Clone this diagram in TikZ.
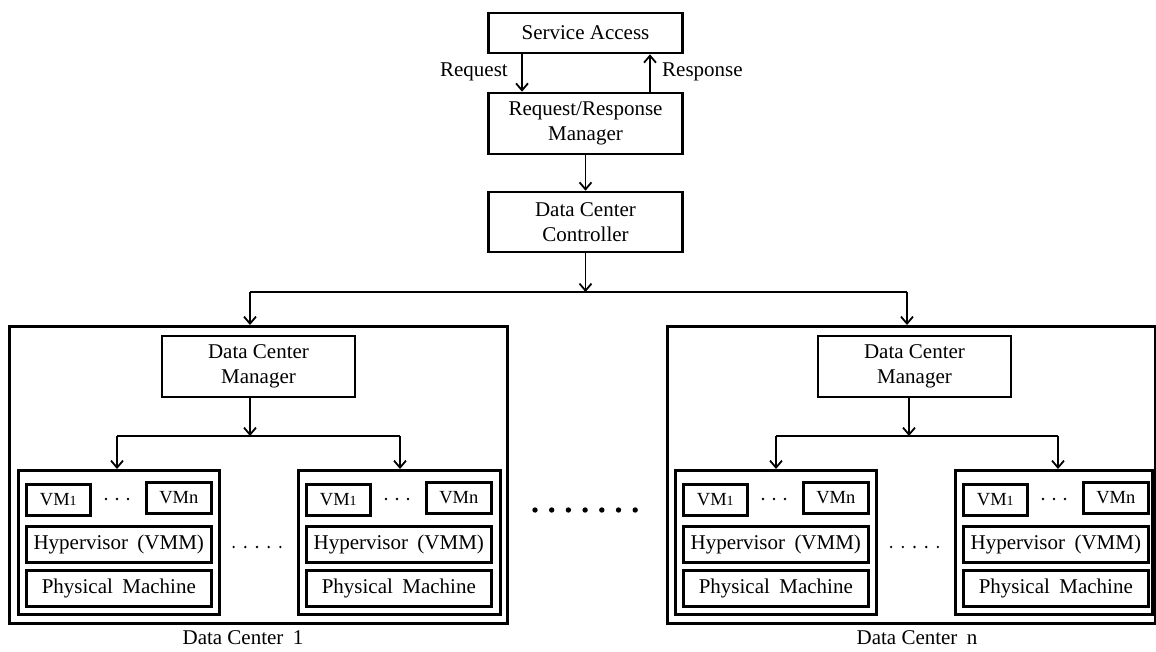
\documentclass[tikz,border=0pt]{standalone}
\usepackage{fontspec}
\setmainfont{Liberation Serif}
\usetikzlibrary{arrows.meta}
\tikzset{
  bx/.style={draw, line width=2.6pt, inner sep=0pt, align=center, font=\fontsize{21}{25}\selectfont},
  vmbox/.style={bx, font=\fontsize{18.5}{20}\selectfont},
  arr/.style={line width=1.8pt, -{Straight Barb[length=7pt,width=12pt,line width=1.8pt]}},
  ln/.style={line width=1.8pt},
  lbl/.style={font=\fontsize{21}{25}\selectfont, inner sep=0pt},
  smalldot/.style={fill=black, draw=none},
}
\begin{document}
\begin{tikzpicture}[x=1pt,y=-1pt]
\useasboundingbox (0,0) rectangle (1156,651);

% top chain
\node[bx, minimum width=194pt, minimum height=40pt] (sa) at (585.5,33) {Service Access};
\node[bx, minimum width=194pt, minimum height=61pt] (rrm) at (585.5,123.5) {Request/Response\\Manager};
\node[bx, minimum width=194pt, minimum height=60pt] (dcc) at (585.5,222) {Data Center\\Controller};

\coordinate (rqx) at (522,0);
\coordinate (rsx) at (650,0);
\draw[arr] (sa.south -| rqx) -- (rrm.north -| rqx);
\draw[arr] (rrm.north -| rsx) -- (sa.south -| rsx);
\node[lbl, anchor=east] (rqlab) at (508,72) {Request};
\node[lbl, anchor=west] (rslab) at (662,72) {Response};

\draw[arr] (rrm.south) -- (dcc.north);

% data centers
\node[bx, minimum width=498pt, minimum height=297pt, anchor=north west] (dc1) at (8,325) {};
\node[bx, minimum width=488pt, minimum height=297pt, anchor=north west] (dcn) at (666,325) {};

\coordinate (bus) at (586,292);
\coordinate (b1) at (250,292);
\coordinate (b2) at (907,292);
\draw[arr] (dcc.south) -- (dcc.south |- bus);
\draw[ln] (b1) -- (b2);
\draw[arr] (b1) -- (b1 |- dc1.north);
\draw[arr] (b2) -- (b2 |- dcn.north);

\node[bx, minimum width=193pt, minimum height=61pt] (dcm1) at (258.5,366.5) {Data Center\\Manager};
\node[bx, minimum width=193pt, minimum height=61pt] (dcmn) at (914.5,366.5) {Data Center\\Manager};

% servers
\foreach \i/\sx/\sw in {1/17/201, 2/297/202, 3/674/201, 4/954/197} {
  \node[bx, minimum width=\sw pt, minimum height=144pt, anchor=north west] (s\i) at (\sx,469) {};
  \node[vmbox, minimum width=64pt, minimum height=31pt, anchor=north west] (va\i) at ({\sx+8},483) {VM{\fontsize{14}{14}\selectfont 1}};
  \node[vmbox, minimum width=65pt, minimum height=31pt, anchor=north west] (vb\i) at ({\sx+128},481) {VMn};
  \node[bx, minimum width=185pt, minimum height=36pt, anchor=north west] (hv\i) at ({\sx+8},525) {Hypervisor\hspace{0.45em}(VMM)};
  \node[bx, minimum width=185pt, minimum height=36pt, anchor=north west] (pm\i) at ({\sx+8},569) {Physical\hspace{0.45em}Machine};
  \foreach \d in {-11,0,11} {
    \fill[smalldot] ({\sx+100+\d},499) circle (1.3pt);
  }
}

% manager to servers
\coordinate (m1) at (250,436);
\coordinate (l1) at (117,436);
\coordinate (r1) at (400,436);
\draw[arr] (dcm1.south -| m1) -- (m1);
\draw[ln] (l1) -- (r1);
\draw[arr] (l1) -- (l1 |- s1.north);
\draw[arr] (r1) -- (r1 |- s2.north);

\coordinate (mn) at (909,436);
\coordinate (ln) at (776,436);
\coordinate (rn) at (1058,436);
\draw[arr] (dcmn.south -| mn) -- (mn);
\draw[ln] (ln) -- (rn);
\draw[arr] (ln) -- (ln |- s3.north);
\draw[arr] (rn) -- (rn |- s4.north);

% dots between servers
\foreach \cx in {257,914.5} {
  \foreach \d in {-2,-1,0,1,2} {
    \fill[smalldot] ({\cx+11.7*\d},547) circle (1.3pt);
  }
}
% big dots between data centers
\foreach \d in {0,...,6} {
  \fill[smalldot] ({535+16.7*\d},510) circle (2.7pt);
}

\node[lbl] (lab1) at (243,638) {Data Center\hspace{0.45em}1};
\node[lbl] (labn) at (917,638) {Data Center\hspace{0.45em}n};
\end{tikzpicture}
\end{document}
